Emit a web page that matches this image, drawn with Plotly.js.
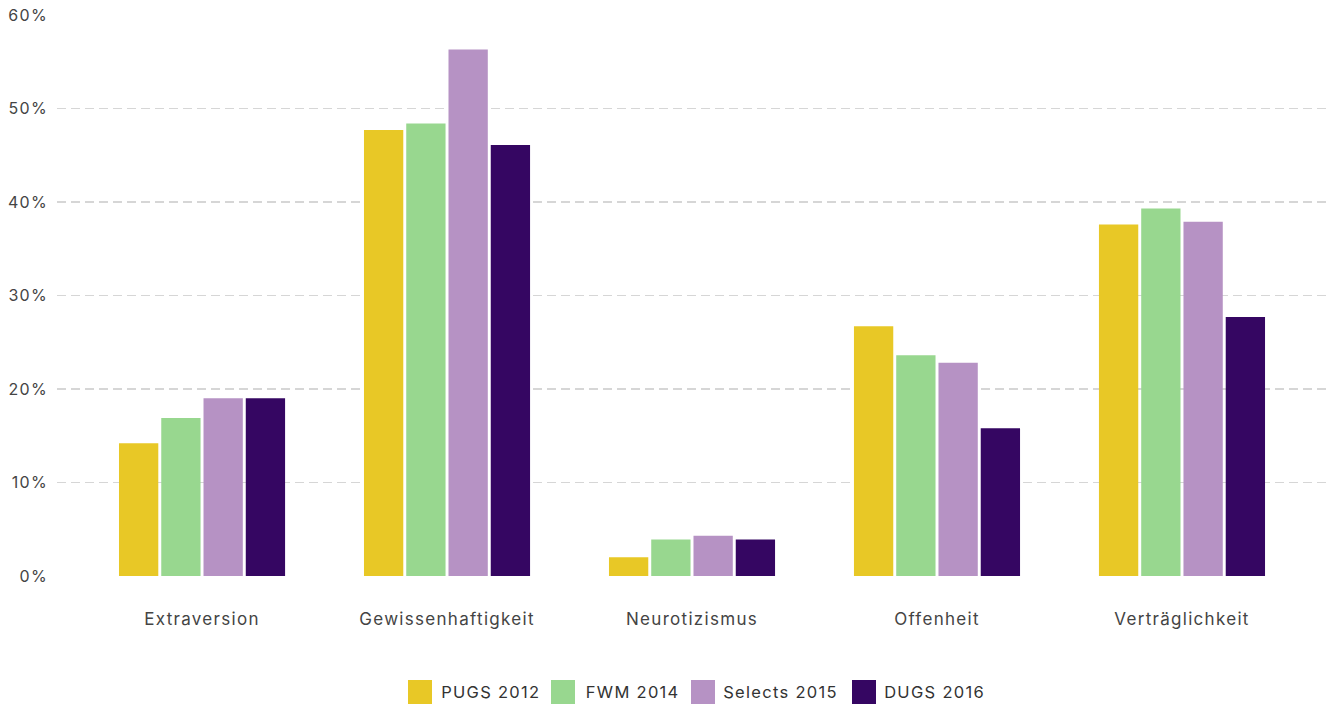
<!DOCTYPE html>
<html>
<head>
<meta charset="utf-8">
<script src="https://cdn.plot.ly/plotly-3.0.1.min.js"></script>
<style>
html,body{margin:0;padding:0;background:#fff;}
#chart{width:1338px;height:706px;}
#chart svg text{letter-spacing:1.3px;}
</style>
</head>
<body>
<div id="chart"></div>
<script>
const categories = ["Extraversion", "Gewissenhaftigkeit", "Neurotizismus", "Offenheit", "Verträglichkeit"];
const seriesNames = ["PUGS 2012", "FWM 2014", "Selects 2015", "DUGS 2016"];
const pugs2012 = [14.2, 47.7, 2.0, 26.7, 37.6];
const fwm2014 = [16.9, 48.4, 3.9, 23.6, 39.3];
const selects2015 = [19.0, 56.3, 4.3, 22.8, 37.9];
const dugs2016 = [19.0, 46.1, 3.9, 15.8, 27.7];
const yTickVals = [0, 10, 20, 30, 40, 50, 60];
const yTickText = ["0%", "10%", "20%", "30%", "40%", "50%", "60%"];

const colors = ["#E8C826", "#98D78F", "#B692C4", "#350662"];
const values = [pugs2012, fwm2014, selects2015, dugs2016];
const FONT = "Inter, Roboto, sans-serif";

const traces = values.map((v, i) => ({
  type: "bar",
  name: seriesNames[i],
  x: categories,
  y: v,
  marker: {color: colors[i], line: {width: 0}},
  showlegend: false,
  hoverinfo: "x+y+name"
}));

// manual legend
const legendSquares = [408, 551, 691, 852];
const legendTexts = [445, 589, 729, 888];
const shapes = [];
const annotations = [];
seriesNames.forEach((n, i) => {
  shapes.push({type: "rect", xref: "paper", yref: "paper",
    x0: (legendSquares[i] - 57) / 1271, x1: (legendSquares[i] + 24 - 57) / 1271,
    y0: (576 - 680) / 561, y1: (576 - 704) / 561,
    fillcolor: colors[i], line: {width: 0}});
  annotations.push({xref: "paper", yref: "paper", x: (legendTexts[i] - 57) / 1271,
    y: (576 - 692) / 561, xanchor: "left", yanchor: "middle", showarrow: false,
    text: n, font: {family: FONT, size: 16.5, color: "#333333"}});
});

const layout = {
  width: 1338, height: 706,
  margin: {l: 57, r: 10, t: 15, b: 130, pad: 0},
  paper_bgcolor: "#ffffff", plot_bgcolor: "#ffffff",
  barmode: "group", bargap: 0.31, bargroupgap: 0.07,
  font: {family: FONT, size: 16, color: "#444444"},
  xaxis: {
    type: "category",
    range: [-0.592, 4.596],
    showgrid: false, zeroline: false, showline: false,
    ticks: "", ticklabelstandoff: 31,
    tickfont: {family: FONT, size: 17, color: "#444444"}
  },
  yaxis: {
    range: [0, 60],
    tickvals: yTickVals, ticktext: yTickText,
    showgrid: true, gridcolor: "#d6d6d6", gridwidth: 1.3, griddash: "9px,5px",
    zeroline: false, showline: false, ticks: "", ticklabelstandoff: 8,
    tickfont: {family: FONT, size: 16, color: "#444444"}
  },
  shapes: shapes,
  annotations: annotations,
  showlegend: false
};

Plotly.newPlot("chart", traces, layout, {displayModeBar: false, staticPlot: true});
</script>
</body>
</html>
